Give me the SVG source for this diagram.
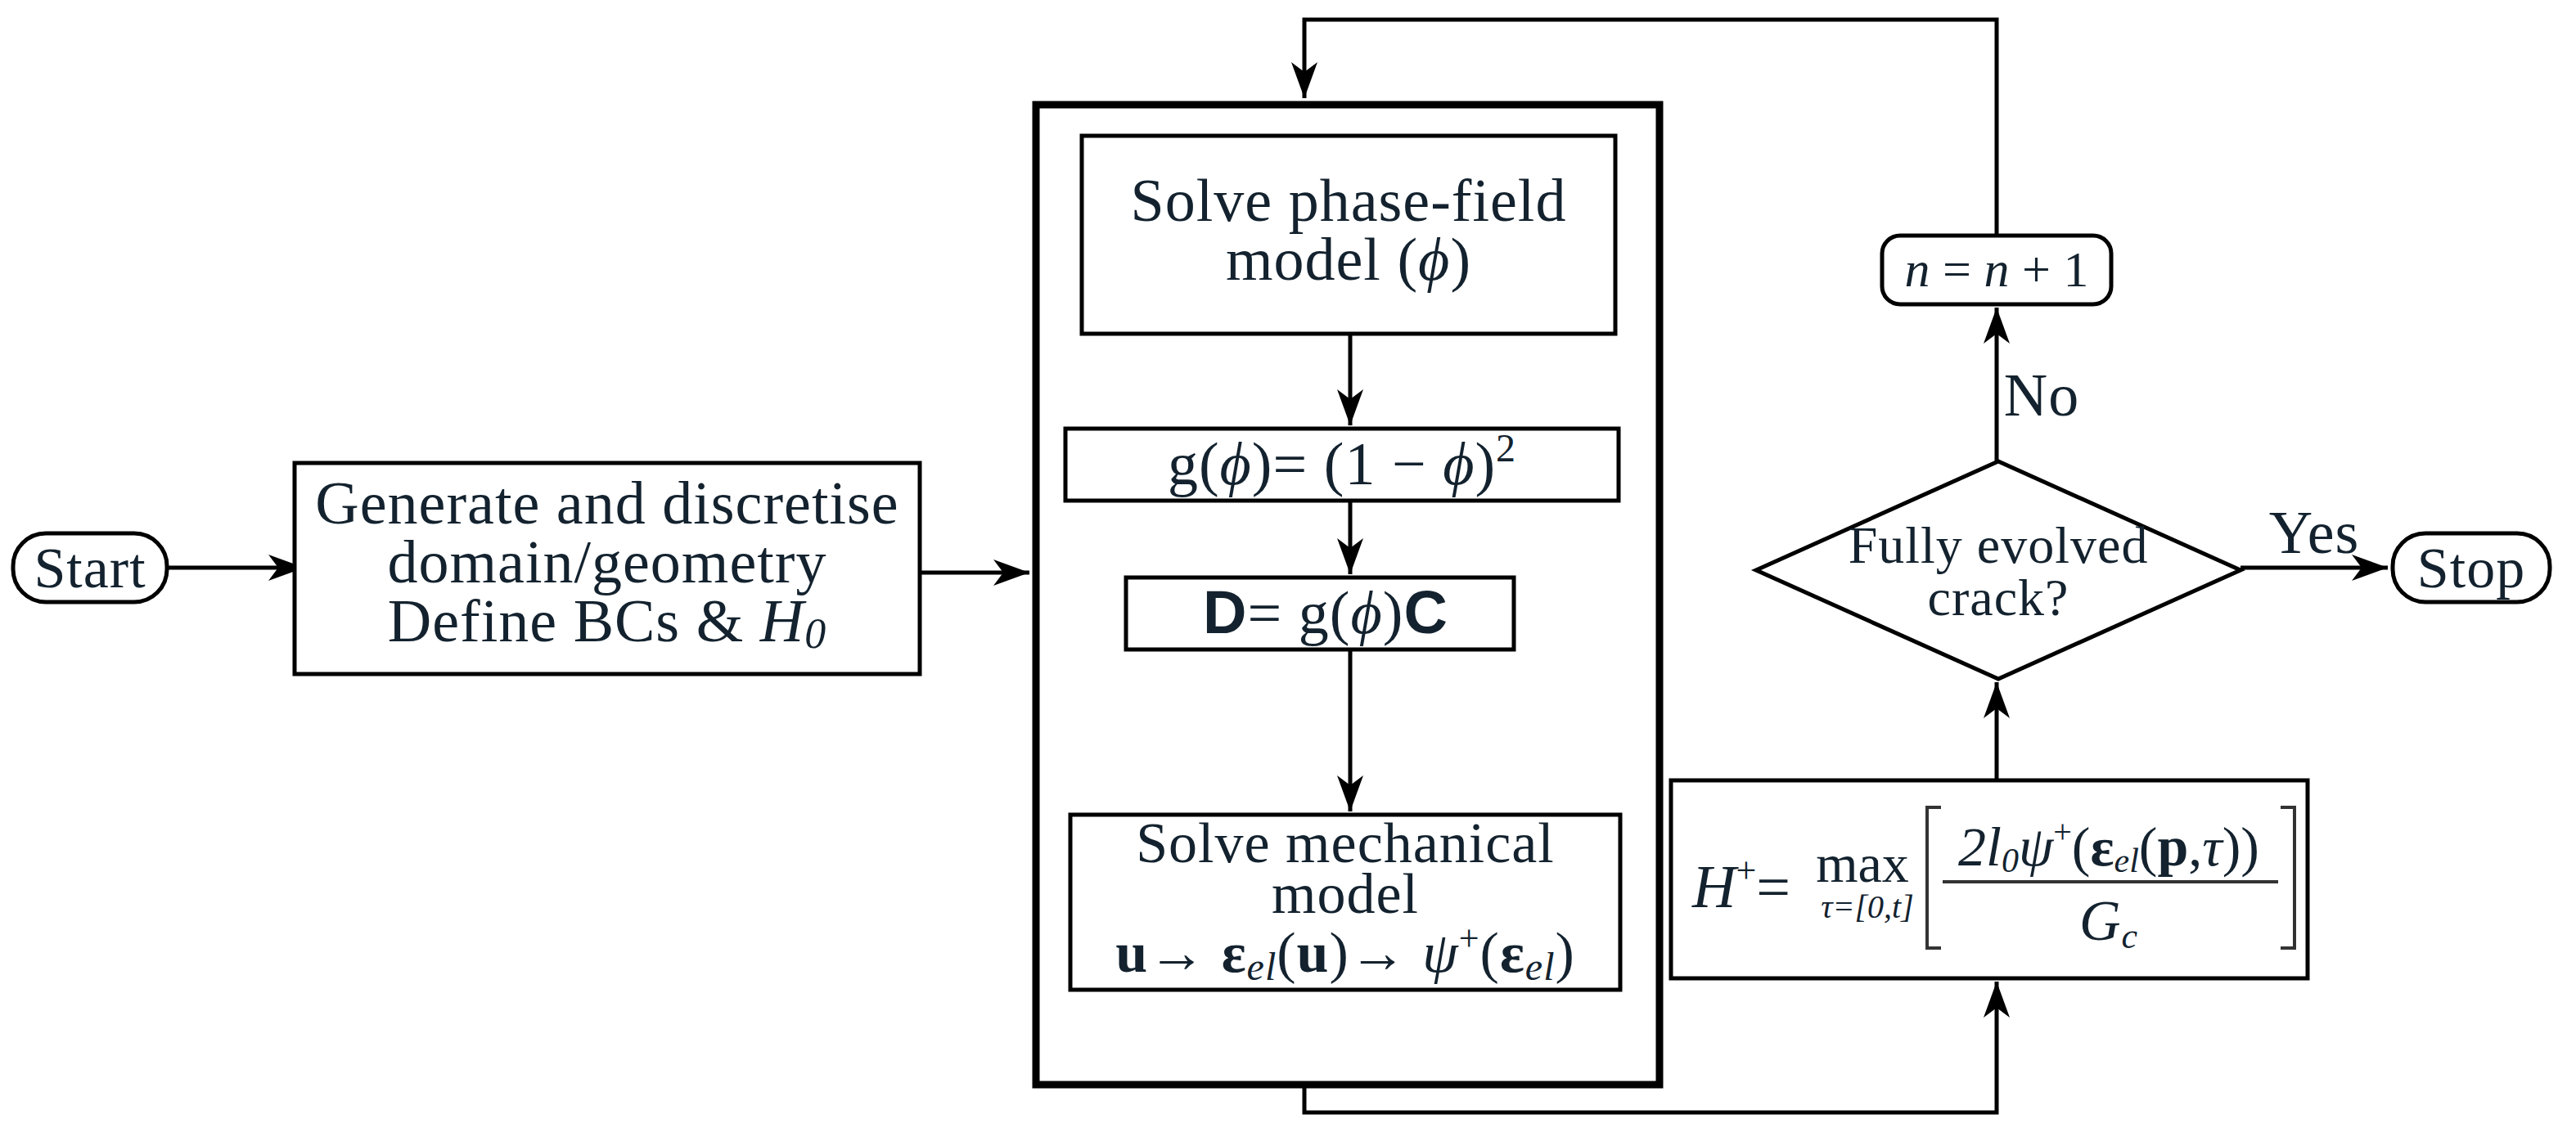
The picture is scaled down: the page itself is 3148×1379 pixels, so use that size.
<svg xmlns="http://www.w3.org/2000/svg" width="3148" height="1379" viewBox="0 0 3148 1379">
<style>
.b{fill:#fff;stroke:#000;stroke-width:5}
.t{font-family:"Liberation Serif",serif;font-size:74px;fill:#13222e;text-anchor:middle;letter-spacing:1px}
.c{fill:none;stroke:#000;stroke-width:5}
</style>
<defs>
<marker id="a" markerUnits="userSpaceOnUse" markerWidth="60" markerHeight="40" refX="44" refY="16" orient="auto">
<path d="M0,0 L44,16 L0,32 L12,16 Z" fill="#000"/>
</marker>
</defs>
<rect width="3148" height="1379" fill="#fff"/>
<g id="connectors">
<path class="c" d="M204,694 H372" marker-end="url(#a)"/>
<path class="c" d="M1124,700 H1258" marker-end="url(#a)"/>
<path class="c" d="M1650,408 V520" marker-end="url(#a)"/>
<path class="c" d="M1650,612 V702" marker-end="url(#a)"/>
<path class="c" d="M1650,794 V992" marker-end="url(#a)"/>
<path class="c" d="M1594,1326 V1360 H2440 V1200" marker-end="url(#a)"/>
<path class="c" d="M2440,954 V834" marker-end="url(#a)"/>
<path class="c" d="M2440,564 V376" marker-end="url(#a)"/>
<path class="c" d="M2440,286 V24 H1594 V120" marker-end="url(#a)"/>
<path class="c" d="M2738,694 H2918" marker-end="url(#a)"/>
<text class="t" x="2828" y="676">Yes</text>
<text class="t" x="2495" y="508">No</text>
</g>
<g id="start"><rect class="b" x="16" y="652" width="188" height="84" rx="40"/><text class="t" x="110" y="718" style="font-size:70px">Start</text></g>
<g id="generate"><rect class="b" x="360" y="566" width="764" height="258"/>
<text class="t" x="742" y="640">Generate and discretise</text>
<text class="t" x="742" y="712">domain/geometry</text>
<text class="t" x="742" y="784">Define BCs &amp; <tspan font-style="italic">H<tspan font-size="52" dy="8">0</tspan></tspan></text></g>
<g id="loop"><rect x="1266" y="128" width="762" height="1198" fill="none" stroke="#000" stroke-width="9"/></g>
<g id="phase"><rect class="b" x="1322" y="166" width="652" height="242"/>
<text class="t" x="1648" y="270">Solve phase-field</text>
<text class="t" x="1648" y="342">model (<tspan font-style="italic">ϕ</tspan>)</text></g>
<g id="g"><rect class="b" x="1302" y="524" width="676" height="88"/>
<text class="t" x="1640" y="592">g(<tspan font-style="italic">ϕ</tspan>)= (1 − <tspan font-style="italic">ϕ</tspan>)<tspan font-size="48" dy="-28">2</tspan></text></g>
<g id="D"><rect class="b" x="1376" y="706" width="474" height="88"/>
<text class="t" x="1620" y="774"><tspan font-family="Liberation Sans,sans-serif" font-weight="bold">D</tspan>= g(<tspan font-style="italic">ϕ</tspan>)<tspan font-family="Liberation Sans,sans-serif" font-weight="bold">C</tspan></text></g>
<g id="mech"><rect class="b" x="1308" y="996" width="672" height="214"/>
<text class="t" x="1644" y="1054" style="font-size:70px">Solve mechanical</text>
<text class="t" x="1644" y="1116" style="font-size:70px">model</text>
<text class="t" x="1644" y="1188" style="font-size:70px"><tspan font-weight="bold">u</tspan>→ <tspan font-weight="bold">ε</tspan><tspan font-style="italic" font-size="48" dy="10">el</tspan><tspan dy="-10">(</tspan><tspan font-weight="bold">u</tspan>)→ <tspan font-style="italic">ψ</tspan><tspan font-size="44" dy="-26">+</tspan><tspan dy="26">(</tspan><tspan font-weight="bold">ε</tspan><tspan font-style="italic" font-size="48" dy="10">el</tspan><tspan dy="-10">)</tspan></text></g>
<g id="H"><rect class="b" x="2042" y="954" width="778" height="242"/>
<text class="t" x="2068" y="1109" style="text-anchor:start;letter-spacing:0"><tspan font-style="italic">H</tspan><tspan font-size="44" dy="-30">+</tspan><tspan dy="30">=</tspan></text>
<text class="t" x="2276" y="1078" style="font-size:66px;letter-spacing:0">max</text>
<text class="t" x="2282" y="1122" style="font-size:40px;font-style:italic;letter-spacing:0">τ=[0,t]</text>
<path d="M2372,987 H2355 V1159 H2372 M2787,987 H2804 V1159 H2787" fill="none" stroke="#333" stroke-width="4"/>
<text class="t" x="2577" y="1058" style="font-size:68px;letter-spacing:0"><tspan font-style="italic">2l</tspan><tspan font-style="italic" font-size="42" dy="8">0</tspan><tspan font-style="italic" dy="-8">ψ</tspan><tspan font-size="40" dy="-28">+</tspan><tspan dy="28">(</tspan><tspan font-weight="bold">ε</tspan><tspan font-style="italic" font-size="42" dy="8">el</tspan><tspan dy="-8">(</tspan><tspan font-weight="bold">p</tspan>,<tspan font-style="italic">τ</tspan>))</text>
<line x1="2374" y1="1078" x2="2784" y2="1078" stroke="#333" stroke-width="4"/>
<text class="t" x="2577" y="1149" style="font-size:70px;font-style:italic">G<tspan font-size="44" dy="10">c</tspan></text></g>
<g id="decision"><polygon class="b" points="2146,697 2442,564 2738,697 2442,830"/>
<text class="t" x="2442" y="688" style="font-size:64px">Fully evolved</text>
<text class="t" x="2442" y="752" style="font-size:64px">crack?</text></g>
<g id="inc"><rect class="b" x="2300" y="288" width="280" height="84" rx="22"/>
<text class="t" x="2440" y="350" style="font-size:62px;font-style:italic;letter-spacing:0">n <tspan font-style="normal">= </tspan>n <tspan font-style="normal">+ 1</tspan></text></g>
<g id="stop"><rect class="b" x="2924" y="652" width="192" height="84" rx="40"/><text class="t" x="3020" y="718" style="font-size:70px">Stop</text></g>
</svg>
